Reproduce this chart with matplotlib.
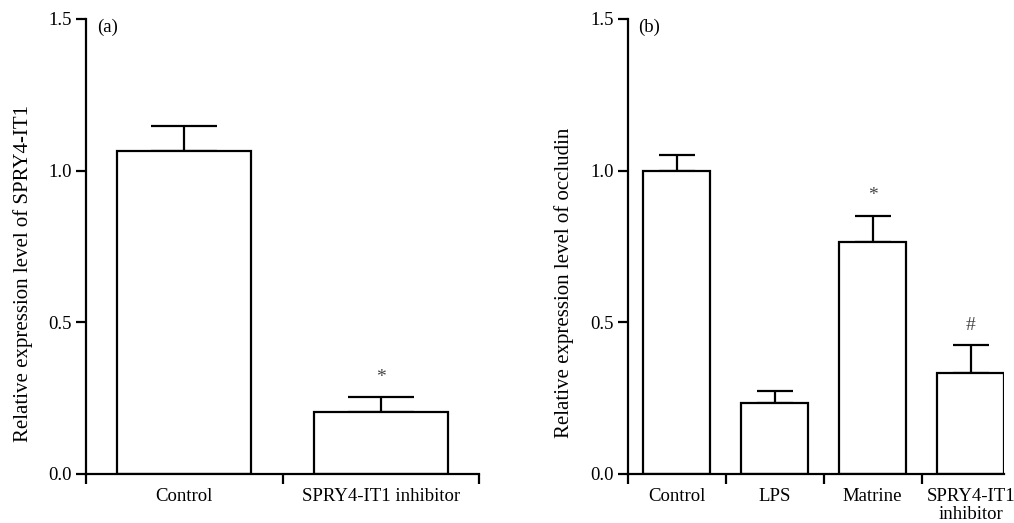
import matplotlib
matplotlib.use("Agg")
import matplotlib.pyplot as plt

# Panel (a)
cats_a = ["Control", "SPRY4-IT1 inhibitor"]
vals_a = [1.066, 0.204]
err_a = [0.082, 0.049]
marks_a = ["", "*"]

# Panel (b)
cats_b = ["Control", "LPS", "Matrine", "SPRY4-IT1\ninhibitor"]
vals_b = [1.000, 0.234, 0.766, 0.332]
err_b = [0.053, 0.039, 0.086, 0.092]
marks_b = ["", "", "*", "#"]

yticks = [0.0, 0.5, 1.0, 1.5]
ytick_labels = ["0.0", "0.5", "1.0", "1.5"]

plt.rcParams['font.family'] = ['Liberation Serif', 'DejaVu Serif']
FS = 13.5
LW = 1.6

fig = plt.figure(figsize=(10.14, 5.23), dpi=100)
H = 523.0
W = 1014.0
bottom = (H - 474) / H
height = (474 - 19) / H

ax1 = fig.add_axes([86 / W, bottom, 393 / W, height])
ax2 = fig.add_axes([627.5 / W, bottom, 376.5 / W, height])


def style(ax, n, xmax, ylabel, tag, capsize, vals, errs, cats, marks, mark_offset):
    x = list(range(n))
    ax.bar(x, vals, width=0.68, color='white', edgecolor='black', linewidth=LW, zorder=2)
    ax.errorbar(x, vals, yerr=[[0] * n, errs], fmt='none', ecolor='black',
                elinewidth=LW, capsize=capsize, capthick=LW, zorder=1)
    for xi, v, e, m in zip(x, vals, errs, marks):
        if m:
            ax.text(xi, v + e + mark_offset, m, ha='center', va='center',
                    fontsize=14, color='#444444')
    ax.set_xlim(-0.5, xmax)
    ax.set_ylim(0, 1.5)
    for s in ['top', 'right']:
        ax.spines[s].set_visible(False)
    for s in ['left', 'bottom']:
        ax.spines[s].set_linewidth(LW)
    ax.set_yticks(yticks)
    ax.set_yticklabels(ytick_labels, fontsize=FS)
    major = [i - 0.5 for i in range(n + 1) if i - 0.5 <= xmax + 1e-9]
    ax.set_xticks(major)
    ax.set_xticklabels([''] * len(major))
    ax.set_xticks(x, minor=True)
    ax.set_xticklabels(cats, minor=True, fontsize=FS, linespacing=1.05)
    ax.tick_params(axis='both', which='major', direction='out', length=7, width=LW)
    ax.tick_params(axis='x', which='minor', length=0, pad=10)
    ax.tick_params(axis='y', pad=3)
    ax.set_ylabel(ylabel, fontsize=15)
    ax.text(0.028, 0.982, tag, transform=ax.transAxes, ha='left', va='center', fontsize=FS)


style(ax1, 2, 1.5, "Relative expression level of SPRY4-IT1", "(a)", 24,
      vals_a, err_a, cats_a, marks_a, 0.065)
style(ax2, 4, 3.34, "Relative expression level of occludin", "(b)", 13,
      vals_b, err_b, cats_b, marks_b, 0.065)

ax1.yaxis.set_label_coords(-53 / 393, 0.441)
ax2.yaxis.set_label_coords(-53 / 376.5, 0.42)

fig.savefig("out.png", dpi=100)
